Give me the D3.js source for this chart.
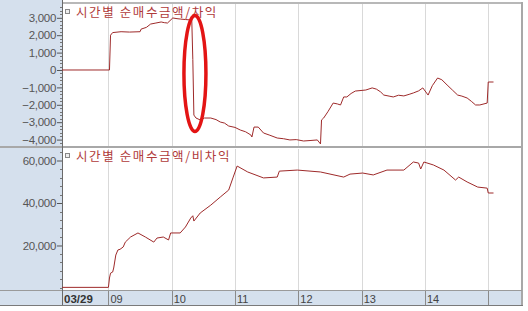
<!DOCTYPE html>
<html><head><meta charset="utf-8">
<script src="https://cdn.jsdelivr.net/npm/d3@7"></script>
<style>body{margin:0;background:#fff;}svg{display:block;}</style>
</head><body><svg id="c" width="528" height="311"></svg>
<script>
// ---- data ----
const hourTicks = ["09:00","10:00","11:00","12:00","13:00","14:00","15:00"];
const hourLabels = ["09","10","11","12","13","14",""];
const dateLabel = "03/29";
const topTitle = "시간별 순매수금액/차익";
const bottomTitle = "시간별 순매수금액/비차익";
const topTicks = [-4000,-3000,-2000,-1000,0,1000,2000,3000];
const bottomTicks = [20000,40000,60000];

const arbTimes = ["08:16","09:01","09:02","09:04","09:12","09:20","09:30","09:31","09:36","09:40","09:45","09:50","09:53","09:56","10:01","10:05","10:08","10:13","10:19","10:20","10:21","10:23","10:27","10:31","10:37","10:42","10:46","10:50","10:54","11:00","11:05","11:10","11:15","11:16","11:18","11:22","11:27","11:33","11:40","11:46","11:52","11:58","12:05","12:12","12:18","12:21","12:22","12:24","12:28","12:33","12:37","12:40","12:43","12:46","12:50","12:54","13:04","13:10","13:14","13:18","13:21","13:26","13:30","13:35","13:40","13:45","13:49","13:54","13:58","14:03","14:07","14:12","14:16","14:21","14:26","14:31","14:35","14:40","14:44","14:48","14:52","14:59","15:00","15:05"];
const arbValues = [0,0,2000,2150,2200,2180,2200,2350,2450,2640,2700,2760,2720,2700,2990,2950,2930,2900,2870,600,-2590,-2760,-2870,-2760,-2760,-2850,-2990,-3050,-3220,-3300,-3450,-3550,-3735,-3850,-3280,-3280,-3620,-3750,-3910,-3950,-4020,-4000,-4080,-4050,-4020,-4250,-2870,-2760,-2400,-1900,-1950,-2010,-1550,-1550,-1350,-1210,-1150,-1030,-1100,-1260,-1440,-1500,-1550,-1450,-1490,-1400,-1320,-1200,-1030,-1440,-900,-460,-560,-860,-1150,-1440,-1500,-1610,-1800,-2010,-2010,-1900,-690,-690];

const nonArbTimes = ["08:16","09:00","09:01","09:02","09:04","09:05","09:07","09:09","09:11","09:14","09:16","09:21","09:28","09:35","09:43","09:46","09:52","09:57","09:59","10:08","10:13","10:18","10:20","10:21","10:27","10:37","10:46","10:54","10:58","11:02","11:12","11:27","11:40","11:42","11:59","12:21","12:43","12:49","13:01","13:11","13:24","13:40","13:49","13:54","13:56","13:59","14:08","14:18","14:29","14:32","14:40","14:50","14:59","15:00","15:05"];
const nonArbValues = [300,300,4700,7000,7500,9400,15500,17900,18200,19300,21600,24000,25900,24000,21600,23500,24000,22600,25900,25900,28700,32900,34000,31500,35300,39000,42800,46100,51800,57400,54600,51800,52200,55000,55500,54600,52200,53600,54100,53200,55500,55500,59300,58800,56000,59300,57900,55500,50800,52200,49900,47500,47000,44700,44700];

// ---- drawing ----
const svg = d3.select("#c");
const toMin = s => { const [h,m] = s.split(":").map(Number); return h*60+m; };
const L = 62, R = 522;
const x = d3.scaleLinear().domain([toMin("08:16"), toMin("15:32")]).range([L, R]);
const yTop = d3.scaleLinear().domain([-4368, 3793]).range([146, 4]);
const yBot = d3.scaleLinear().domain([-1412, 65412]).range([291, 149]);

const panelBg = "#d5e0ed";
svg.append("rect").attr("x",0).attr("y",0).attr("width",L).attr("height",305).attr("fill",panelBg);
svg.append("rect").attr("x",L).attr("y",291).attr("width",R-L).attr("height",14).attr("fill",panelBg);

// grid
const gridG = svg.append("g");
hourTicks.forEach(t => {
  const xx = Math.round(x(toMin(t)))+0.5;
  gridG.append("line").attr("x1",xx).attr("x2",xx).attr("y1",4).attr("y2",146).attr("stroke","#d9d9d9");
  gridG.append("line").attr("x1",xx).attr("x2",xx).attr("y1",149).attr("y2",291).attr("stroke","#d9d9d9");
  gridG.append("line").attr("x1",xx).attr("x2",xx).attr("y1",291).attr("y2",305).attr("stroke","#8a8a8a");
});

// borders
svg.append("rect").attr("x",0).attr("y",146).attr("width",R+1).attr("height",2).attr("fill","#a8a8a8");
svg.append("rect").attr("x",L).attr("y",2).attr("width",R-L+1).attr("height",2).attr("fill","#b8b8b8");
svg.append("rect").attr("x",R-1).attr("y",2).attr("width",2).attr("height",303).attr("fill","#a8a8a8");
svg.append("line").attr("x1",0).attr("x2",R).attr("y1",290.5).attr("y2",290.5).attr("stroke","#9a9a9a");
svg.append("line").attr("x1",0).attr("x2",R+1).attr("y1",305.5).attr("y2",305.5).attr("stroke","#7a7a7a");
svg.append("line").attr("x1",L+0.5).attr("x2",L+0.5).attr("y1",0).attr("y2",305).attr("stroke","#6a6a6a");

// y axes
const fmt = d3.format(",");
function yAxis(scale, ticks, minorStep) {
  const g = svg.append("g").attr("transform",`translate(${L},0)`);
  const ax = d3.axisLeft(scale).tickValues(ticks).tickFormat(fmt).tickSize(5).tickPadding(1);
  g.call(ax);
  g.select(".domain").remove();
  g.selectAll(".tick line").attr("stroke","#555");
  g.selectAll(".tick text").attr("fill","#555").attr("font-family","Liberation Sans, Arial, sans-serif").attr("font-size",11.5).attr("letter-spacing","-0.3");
  const [d0,d1] = scale.domain();
  const minors = d3.range(Math.ceil(d0/minorStep)*minorStep, d1, minorStep).filter(v => !ticks.includes(v));
  g.selectAll(".minor").data(minors).join("line")
    .attr("x1",-2).attr("x2",0)
    .attr("y1",d=>Math.round(scale(d))+0.5).attr("y2",d=>Math.round(scale(d))+0.5)
    .attr("stroke","#777");
}
yAxis(yTop, topTicks, 200);
yAxis(yBot, bottomTicks, 4000);

// x labels
svg.append("text").attr("x",L+2).attr("y",303).text(dateLabel)
  .attr("font-family","Liberation Sans, Arial, sans-serif").attr("font-size",11.5).attr("font-weight","bold").attr("fill","#333");
hourTicks.forEach((t,i) => {
  svg.append("text").attr("x",x(toMin(t))+2).attr("y",303).text(hourLabels[i])
    .attr("font-family","Liberation Sans, Arial, sans-serif").attr("font-size",11).attr("fill","#444");
});

// lines
const lineColor = "#9e2a2a";
const topData = arbTimes.map((t,i)=>({t:toMin(t), v:arbValues[i]}));
const botData = nonArbTimes.map((t,i)=>({t:toMin(t), v:nonArbValues[i]}));
svg.append("path").datum(topData)
  .attr("d", d3.line().x(d=>x(d.t)).y(d=>yTop(d.v)))
  .attr("fill","none").attr("stroke",lineColor).attr("stroke-width",1);
svg.append("path").datum(botData)
  .attr("d", d3.line().x(d=>x(d.t)).y(d=>yBot(d.v)))
  .attr("fill","none").attr("stroke",lineColor).attr("stroke-width",1);

// legends
function legend(yy, label) {
  svg.append("rect").attr("x",65.5).attr("y",yy-7.5).attr("width",4).attr("height",4)
    .attr("fill","#eee").attr("stroke","#888");
  svg.append("text").attr("x",76).attr("y",yy).text(label)
    .attr("font-family","Noto Sans CJK KR, sans-serif").attr("font-size",12.5)
    .attr("letter-spacing","1.6").attr("fill","#b03a3a");
}
legend(17, topTitle);
legend(161, bottomTitle);

// annotation ellipse
svg.append("ellipse").attr("cx", x(toMin("10:22"))).attr("cy", yTop(-200))
  .attr("rx",11).attr("ry",58).attr("fill","none").attr("stroke","#e31414").attr("stroke-width",3.5);
</script></body></html>
